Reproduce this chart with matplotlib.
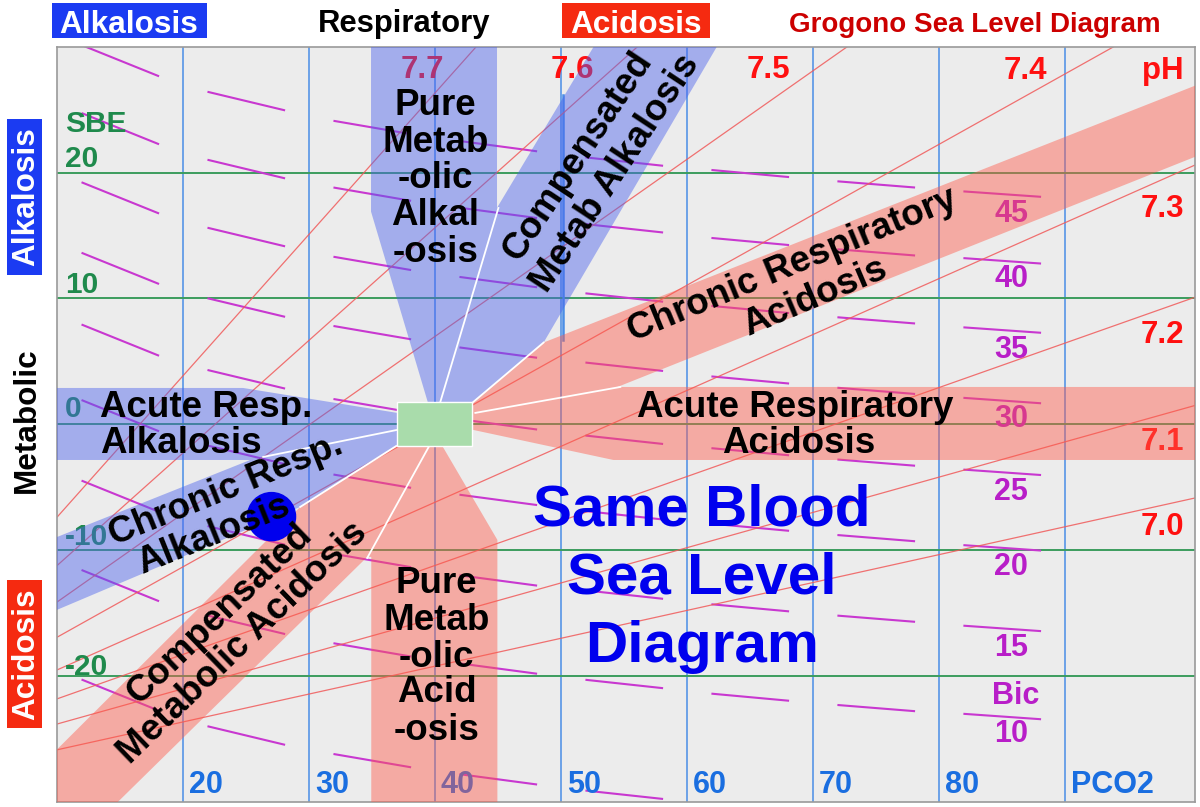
import matplotlib
matplotlib.use("Agg")
import matplotlib.pyplot as plt
from matplotlib.patches import Polygon, Rectangle, Circle

plt.rcParams['font.family'] = ['Liberation Sans', 'DejaVu Sans']

W, H = 1200, 807

# ---- chart data (PCO2 in mmHg on x, standard base excess on y) ----
pco2_grid = [20, 30, 40, 50, 60, 70, 80, 90]
pco2_labels = ['20', '30', '40', '50', '60', '70', '80', 'PCO2']
sbe_grid = [20, 10, 0, -10, -20]
sbe_labels = ['20', '10', '0', '-10', '-20']

# pH isopleths, end points
ph_values = [7.0, 7.1, 7.2, 7.3, 7.4, 7.5, 7.6, 7.7]
ph_start = [(10, -25.85), (10, -23.8), (10, -21.8), (10, -19.5),
            (10, -16.9), (10, -14.1), (10, -11.2), (10, -7.35)]
ph_end = [(100.3, -5.85), (100.3, 1.5), (100.3, 10.1), (100.3, 20.6),
          (93.85, 30), (72.7, 30), (56.05, 30), (43.25, 30)]
ph_top_labels = ['7.7', '7.6', '7.5', '7.4', 'pH']
ph_side_labels = ['7.3', '7.2', '7.1', '7.0']

# bicarbonate dashes: one column of short segments per PCO2 cell
bic_values = [45, 40, 35, 30, 25, 20, 15, 10, 5]
bic_col_start = [12, 22, 32, 42, 52, 62, 72, 82]
bic_col_drop = [2.42, 1.44, 1.03, 0.80, 0.65, 0.55, 0.48, 0.42]
bic_sbe = [
    [30.1, 24.7, 19.2, 13.6, 7.9, 1.9, -4.5, -11.6, -20.3],
    [26.4, 21.0, 15.6, 10.0, 4.3, -1.7, -8.1, -15.2, -24.0],
    [24.1, 18.8, 13.3, 7.8, 2.0, -4.0, -10.3, -17.4, -26.2],
    [22.5, 17.2, 11.7, 6.1, 0.4, -5.6, -12.0, -19.0, -27.8],
    [21.2, 15.9, 10.4, 4.9, -0.9, -6.9, -13.2, -20.3, -29.1],
    [20.2, 14.8, 9.4, 3.8, -1.9, -7.9, -14.3, -21.4],
    [19.3, 13.9, 8.5, 2.9, -2.8, -8.8, -15.2, -22.3],
    [18.5, 13.2, 7.7, 2.1, -3.6, -9.6, -16.0, -23.0],
]
bic_labels = ['45', '40', '35', '30', '25', '20', '15', 'Bic', '10']

# zones (PCO2, SBE) outlines
blue_upper = [(34.9, 30.6), (44.9, 30.6), (44.9, 17.2), (52.93, 30.6), (62.7, 30.6),
              (48.6, 6.5), (43.0, 1.78), (39.4, 1.78), (34.9, 16.9)]
blue_left = [(9.4, 2.89), (24.75, 2.89), (36.98, 0.91), (36.98, -1.72), (29.28, -6.56),
             (9.4, -14.98), (9.4, -9.18), (25.31, -2.83), (9.4, -2.83)]
red_right = [(43.0, 1.78), (48.6, 6.5), (100.8, 27.1), (100.8, 21.45), (54.46, 2.97),
             (100.8, 2.97), (100.8, -2.83), (54.14, -2.83), (43.0, -0.44)]
red_lower = [(36.98, -1.72), (29.28, -6.56), (9.4, -26.4), (9.4, -30.6), (14.19, -30.6),
             (34.6, -10.53), (34.92, -10.53), (34.92, -30.6), (44.93, -30.6),
             (44.93, -9.18), (40.56, -1.72)]
white_lines = [((40.40, 1.78), (45.01, 17.19)),
               ((43.02, 1.78), (48.6, 6.5)),
               ((43.18, 0.91), (54.69, 2.97)),
               ((36.98, -0.44), (26.34, -2.59)),
               ((36.9, -1.72), (29.28, -6.56)),
               ((39.52, -1.72), (34.6, -10.61))]
normal_box = (36.98, -1.72, 5.96, 3.5)
patient = (27.0, -7.33)

fig = plt.figure(figsize=(W / 100, H / 100), dpi=100)
ax = fig.add_axes([57.3 / W, 1 - 802 / H, (1195 - 57.3) / W, (802 - 46.7) / H])
ax.set_xlim(10, 100.3)
ax.set_ylim(-30, 30)
ax.set_facecolor('#ececec')
ax.set_xticks([])
ax.set_yticks([])
for s in ax.spines.values():
    s.set_color('#9a9a9a')
    s.set_linewidth(1.2)

# grid
for x in pco2_grid:
    ax.axvline(x, color='#4a8ee6', lw=1.1, zorder=1)
for y in sbe_grid:
    ax.axhline(y, color='#3c9c5e', lw=1.4, zorder=1)
ax.plot([50.15, 50.15], [6.7, 26.2], color='#4a8ee6', lw=1.8, zorder=1)

# bicarbonate dashes
for x0, drop, col in zip(bic_col_start, bic_col_drop, bic_sbe):
    for y0 in col:
        ax.plot([x0, x0 + 6], [y0, y0 - drop], color='#c838d0', lw=1.5, zorder=1.5)

# pH lines
for (x0, y0), (x1, y1) in zip(ph_start, ph_end):
    ax.plot([x0, x1], [y0, y1], color='#f05a5a', lw=0.9, alpha=0.85, zorder=2)

bold = dict(fontweight='bold')
# number labels (drawn under the zones so they tint like the original)
for x, t in zip(pco2_grid, pco2_labels):
    ax.text(x + 0.45, -29.28, t, color='#1a6ee0', fontsize=22, ha='left', va='baseline', zorder=2, **bold)
ax.text(10.62, 23.22, 'SBE', color='#1f8a4c', fontsize=21.5, ha='left', va='baseline', zorder=2, **bold)
for y, t in zip([20.44, 10.43, 0.59, -9.58, -19.95], sbe_labels):
    ax.text(10.62, y, t, color='#1f8a4c', fontsize=21.5, ha='left', va='baseline', zorder=2, **bold)
for (x, y), t in zip([(38.97, 27.5), (50.88, 27.5), (66.45, 27.5), (86.86, 27.4), (97.75, 27.4)], ph_top_labels):
    ax.text(x, y, t, color='#ff1010', fontsize=22.5, ha='center', va='baseline', zorder=2, **bold)
for y, t in zip([16.47, 6.47, -2.03, -8.78], ph_side_labels):
    ax.text(97.75, y, t, color='#ff1010', fontsize=22.5, ha='center', va='baseline', zorder=2, **bold)
for y, t in zip([16.06, 10.9, 5.27, -0.21, -6.0, -11.96, -18.4, -22.24, -25.26], bic_labels):
    ax.text(85.7 if t != 'Bic' else 86.1, y, t, color='#b81ec8', fontsize=22,
            ha='center', va='baseline', zorder=2, **bold)

# zones
for pts, c in [(blue_upper, '#4a62ee'), (blue_left, '#4a62ee'),
               (red_right, '#ff5a4a'), (red_lower, '#ff5a4a')]:
    ax.add_patch(Polygon(pts, closed=True, facecolor=c, edgecolor='none', alpha=0.45, zorder=3))
for (x0, y0), (x1, y1) in white_lines:
    ax.plot([x0, x1], [y0, y1], color='white', lw=1.3, zorder=4)
ax.add_patch(Rectangle(normal_box[:2], normal_box[2], normal_box[3],
                       facecolor='#a9dcab', edgecolor='white', lw=1, zorder=5))
ax.add_patch(Circle(patient, 1.91, color='#0000ee', zorder=5))

# zone names
lab = dict(color='black', fontsize=26.5, zorder=6, **bold)
ax.text(13.4, 0.59, 'Acute Resp.', ha='left', va='baseline', **lab)
ax.text(13.4, -2.27, 'Alkalosis', ha='left', va='baseline', **lab)
ax.text(68.58, 0.59, 'Acute Respiratory', ha='center', va='baseline', **lab)
ax.text(68.82, -2.27, 'Acidosis', ha='center', va='baseline', **lab)
for y, t in zip([24.57, 21.64, 18.78, 15.84, 12.9], ['Pure', 'Metab', '-olic', 'Alkal', '-osis']):
    ax.text(40.0, y, t, ha='center', va='baseline', **lab)
for y, t in zip([-13.4, -16.34, -19.28, -22.06, -25.08], ['Pure', 'Metab', '-olic', 'Acid', '-osis']):
    ax.text(40.1, y, t, ha='center', va='baseline', **lab)
rot = dict(ha='center', va='center', rotation_mode='anchor')
ax.text(23.4, -5.21, 'Chronic Resp.', rotation=22, **rot, **lab)
ax.text(22.37, -8.79, 'Alkalosis', rotation=22, **rot, **lab)
ax.text(22.86, -15.05, 'Compensated', rotation=44, **rot, **lab)
ax.text(24.72, -17.33, 'Metabolic Acidosis', rotation=44, **rot, **lab)
ax.text(51.36, 21.32, 'Compensated', rotation=56.5, **rot, **lab)
ax.text(54.3, 19.97, 'Metab Alkalosis', rotation=56.5, **rot, **lab)
ax.text(68.36, 12.66, 'Chronic Respiratory', rotation=22.5, **rot, **lab)
ax.text(70.1, 10.12, 'Acidosis', rotation=23, **rot, **lab)

for y, t in zip([-8.0, -13.4, -18.88], ['Same Blood', 'Sea Level', 'Diagram']):
    ax.text(61.15, y, t, color='#0000ee', fontsize=42, ha='center', va='baseline', zorder=6, **bold)


# ---- frame labels outside the plot (pixel positions) ----
def fx(px):
    return px / W


def fy(py):
    return 1 - py / H


def box(x0, y0, x1, y1, c):
    fig.add_artist(Rectangle((fx(x0), fy(y1)), fx(x1) - fx(x0), fy(y0) - fy(y1),
                             transform=fig.transFigure, facecolor=c, edgecolor='none'))


box(52, 3, 207, 38, '#1b3bf2')
box(562, 3, 710, 38, '#f52a10')
box(7, 119, 42, 275, '#1b3bf2')
box(7, 580, 42, 728, '#f52a10')
fig.text(fx(129), fy(33), 'Alkalosis', color='white', fontsize=22.7, ha='center', va='baseline', **bold)
fig.text(fx(404), fy(32), 'Respiratory', color='black', fontsize=22.3, ha='center', va='baseline', **bold)
fig.text(fx(636), fy(33), 'Acidosis', color='white', fontsize=22.7, ha='center', va='baseline', **bold)
fig.text(fx(975), fy(32), 'Grogono Sea Level Diagram', color='#cc0000', fontsize=20,
         ha='center', va='baseline', **bold)
fig.text(fx(26), fy(197), 'Alkalosis', color='white', fontsize=22.7, rotation=90, ha='center', va='center', **bold)
fig.text(fx(27), fy(420), 'Metabolic', color='black', fontsize=22.7, rotation=90, ha='center', va='center', **bold)
fig.text(fx(26), fy(654), 'Acidosis', color='white', fontsize=22.7, rotation=90, ha='center', va='center', **bold)

fig.savefig('out.png', dpi=100, facecolor='white')
